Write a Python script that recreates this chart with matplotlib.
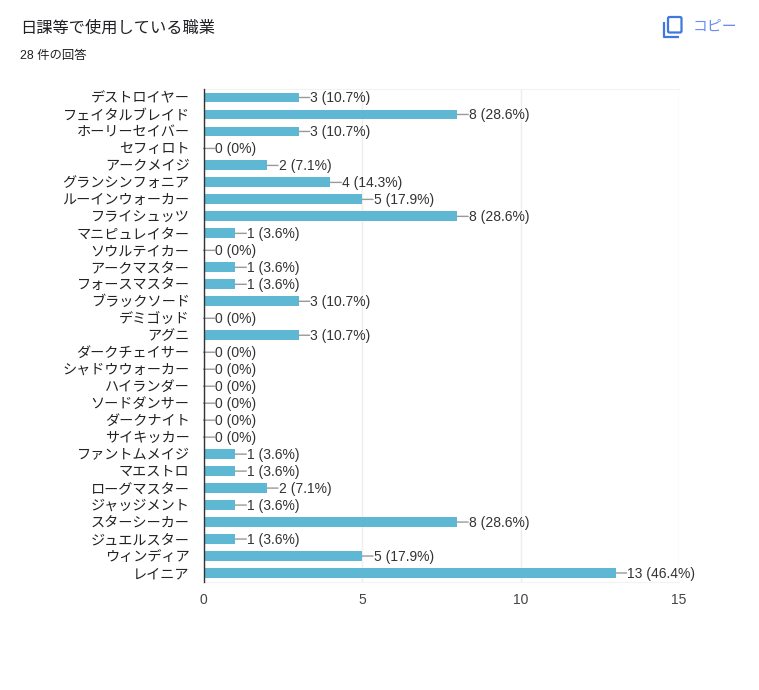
import matplotlib
matplotlib.use('Agg')
import matplotlib.pyplot as plt
from matplotlib.patches import FancyBboxPatch
from matplotlib.transforms import ScaledTranslation

plt.rcParams['font.family'] = ['Liberation Sans', 'Noto Sans CJK JP', 'DejaVu Sans']

jobs = ['デストロイヤー', 'フェイタルブレイド', 'ホーリーセイバー', 'セフィロト', 'アークメイジ',
        'グランシンフォニア', 'ルーインウォーカー', 'フライシュッツ', 'マニピュレイター', 'ソウルテイカー',
        'アークマスター', 'フォースマスター', 'ブラックソード', 'デミゴッド', 'アグニ',
        'ダークチェイサー', 'シャドウウォーカー', 'ハイランダー', 'ソードダンサー', 'ダークナイト',
        'サイキッカー', 'ファントムメイジ', 'マエストロ', 'ローグマスター', 'ジャッジメント',
        'スターシーカー', 'ジュエルスター', 'ウィンディア', 'レイニア']
counts = [3, 8, 3, 0, 2, 4, 5, 8, 1, 0, 1, 1, 3, 0, 3, 0, 0, 0, 0, 0, 0, 1, 1, 2, 1, 8, 1, 5, 13]
percents = ['10.7', '28.6', '10.7', '0', '7.1', '14.3', '17.9', '28.6', '3.6', '0', '3.6', '3.6',
            '10.7', '0', '10.7', '0', '0', '0', '0', '0', '0', '3.6', '3.6', '7.1', '3.6',
            '28.6', '3.6', '17.9', '46.4']
xticks = [0, 5, 10, 15]

W, H = 759, 690
fig = plt.figure(figsize=(W / 100, H / 100), dpi=100)
ax = fig.add_axes([203.5 / W, 1 - 581.5 / H, (679 - 203.5) / W, (581.5 - 89) / H])

ypos = list(range(len(jobs)))
ax.barh(ypos, counts, height=0.58, color='#5fb8d3', zorder=3)
for i, (c, p) in enumerate(zip(counts, percents)):
    # leader and text separately so the baseline stays the same on every row
    ax.annotate('', xy=(c, i), xytext=(8, 0), textcoords='offset points', zorder=2,
                arrowprops=dict(arrowstyle='-', color='#999999', lw=1, shrinkA=0, shrinkB=0))
    ax.annotate(f'{c} ({p}%)', xy=(c, i), xytext=(8.5, -3.6), textcoords='offset points',
                va='baseline', ha='left', fontsize=10, color='#333333', zorder=4)

ax.set_xlim(0, 15)
ax.set_ylim(len(jobs) - 0.5, -0.5)
ax.set_yticks(ypos)
ax.set_yticklabels(jobs, fontsize=10.2, color='#222222', va='baseline')
ax.set_xticks(xticks)
ax.set_xticklabels(xticks, fontsize=10, color='#444444')
ax.tick_params(axis='y', length=0, pad=10)
ax.tick_params(axis='x', length=0, pad=8)
# tick_params resets the label transform, so the shift has to come after it
shift = ScaledTranslation(0, -3.6 / 72, fig.dpi_scale_trans)
for lab in ax.get_yticklabels():
    lab.set_transform(lab.get_transform() + shift)
ax.grid(axis='x', color='#eeeeee', lw=1, zorder=0)
for s in ['top', 'bottom']:
    ax.spines[s].set_color('#f2f2f2')
ax.spines['right'].set_visible(False)
ax.spines['left'].set_color('#333333')
ax.spines['left'].set_linewidth(1)
ax.spines['left'].set_zorder(5)

fig.text(20 / W, 1 - 28 / H, '日課等で使用している職業', fontsize=11.7, color='#202124', va='center')
fig.text(20 / W, 1 - 56.5 / H, '28 件の回答', fontsize=8.9, color='#202124', va='center')
fig.text(693 / W, 1 - 27 / H, 'コピー', fontsize=10.7, color='#6a8cf0', va='center')

# copy icon, drawn in pixel coords
icon = fig.add_axes([0, 0, 1, 1], facecolor='none')
icon.set_xlim(0, W)
icon.set_ylim(H, 0)
icon.axis('off')
icon.add_patch(FancyBboxPatch((668, 17), 13.5, 15.5, boxstyle='round,pad=0,rounding_size=1.5',
                              fc='none', ec='#4178e0', lw=1.6))
icon.plot([664, 664, 679], [22, 37, 37], color='#4178e0', lw=1.6, solid_capstyle='butt')

fig.savefig('out.png', dpi=100)
